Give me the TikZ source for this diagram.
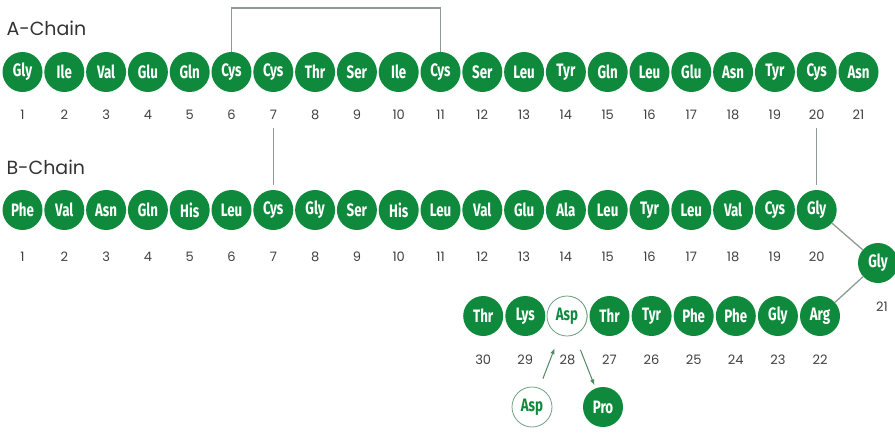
\documentclass[tikz,border=0pt]{standalone}
\usepackage{fontspec}
\usepackage{xcolor}
\usepackage{tikz}
\usetikzlibrary{arrows.meta,positioning,calc}
\newfontfamily\resfont[FakeStretch=0.74]{Fira Sans}
\newfontfamily\numfont{Poppins}
\definecolor{insgreen}{HTML}{0F8A3D}
\definecolor{linkgray}{HTML}{8E9B93}
\definecolor{swapgreen}{HTML}{4F8A63}
\tikzset{
  residue/.style={circle,fill=insgreen,text=white,minimum size=40pt,inner sep=0pt,
    font=\resfont\bfseries\fontsize{18}{18}\selectfont},
  altresidue/.style={residue,fill=white,draw=swapgreen!80,line width=0.8pt,text=insgreen},
  resnum/.style={font=\numfont\fontsize{13}{13}\selectfont,text=black!75},
  chainlabel/.style={font=\numfont\fontsize{19}{19}\selectfont,text=black!80,anchor=west},
  bridge/.style={draw=linkgray,line width=1.3pt},
  swaparrow/.style={-{Latex[length=6pt,width=4.5pt]},draw=swapgreen,line width=1pt}
}
\begin{document}
\begin{tikzpicture}[x=1pt,y=-1pt]
  \useasboundingbox (0,0) rectangle (895,432);
  \node[chainlabel] (alabel) at (3,28) {A-Chain};
  \node[chainlabel] (blabel) at (3,167) {B-Chain};
  % A chain
  \foreach \res [count=\i] in {Gly,Ile,Val,Glu,Gln,Cys,Cys,Thr,Ser,Ile,Cys,Ser,Leu,Tyr,Gln,Leu,Glu,Asn,Tyr,Cys,Asn} {
    \node[residue] (a\i) at ({22.5+(\i-1)*41.8},72) {\res};
    \node[resnum] (na\i) at ({22.5+(\i-1)*41.8},115) {\i};
  }
  % B chain, first row
  \foreach \res [count=\i] in {Phe,Val,Asn,Gln,His,Leu,Cys,Gly,Ser,His,Leu,Val,Glu,Ala,Leu,Tyr,Leu,Val,Cys,Gly} {
    \node[residue] (b\i) at ({22.5+(\i-1)*41.8},210) {\res};
    \node[resnum] (nb\i) at ({22.5+(\i-1)*41.8},257) {\i};
  }
  \node[residue] (b21) at (878,263) {Gly};
  \node[resnum] (nb21) at (882,307) {21};
  % B chain, turned back
  \foreach \res/\i in {Arg/22,Gly/23,Phe/24,Phe/25,Tyr/26,Thr/27,Asp/28,Lys/29,Thr/30} {
    \node[residue] (b\i) at ({820-(\i-22)*42.1},316) {\res};
    \node[resnum] (nb\i) at ({820-(\i-22)*42.1},360) {\i};
  }
  \node[altresidue] (b28) at (567,316) {Asp};
  \node[altresidue] (aspx) at (532,407) {Asp};
  \node[residue] (prox) at (603,407) {Pro};
  % disulfide bridges
  \draw[bridge] (a6.north) -- (a6.north |- 0,8) -| (a11.north);
  \draw[bridge,shorten <=5pt,shorten >=5pt] (na7.south) -- (b7.north);
  \draw[bridge,shorten <=5pt,shorten >=5pt] (na20.south) -- (b20.north);
  \draw[bridge] (b20) -- (b21);
  \draw[bridge] (b21) -- (b22);
  % substitutions at 28
  \draw[swaparrow,shorten <=10pt,shorten >=14pt] (aspx) -- (b28);
  \draw[swaparrow,shorten <=16pt,shorten >=3pt] (b28) -- (prox);
\end{tikzpicture}
\end{document}
